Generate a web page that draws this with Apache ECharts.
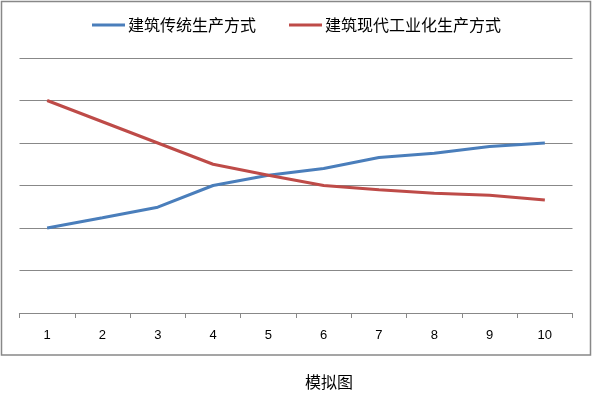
<!DOCTYPE html>
<html>
<head>
<meta charset="utf-8">
<script src="https://cdn.jsdelivr.net/npm/echarts@6/dist/echarts.min.js"></script>
<style>html,body{margin:0;padding:0;background:#fff;}#c{width:594px;height:395px;}</style>
</head>
<body>
<div id="c"></div>
<script>
var categories = ['1','2','3','4','5','6','7','8','9','10'];
var traditional = [2.0, 2.24, 2.49, 3.0, 3.24, 3.4, 3.66, 3.76, 3.92, 4.0];
var industrial = [5.0, 4.5, 4.0, 3.5, 3.24, 3.0, 2.9, 2.82, 2.77, 2.66];
var seriesNames = ['建筑传统生产方式', '建筑现代工业化生产方式'];
var titleText = '模拟图';

var chart = echarts.init(document.getElementById('c'), null, {renderer: 'canvas'});
var font = '"Noto Sans CJK SC", "Microsoft YaHei", sans-serif';
chart.setOption({
  animation: false,
  backgroundColor: '#fff',
  textStyle: {fontFamily: font},
  graphic: [{
    type: 'rect', z: -1, silent: true,
    shape: {x: 1.5, y: 1.5, width: 589, height: 353.5},
    style: {fill: 'none', stroke: '#888', lineWidth: 1.5}
  }],
  title: {
    text: titleText, left: 305, top: 374, padding: 0,
    textStyle: {fontSize: 16, fontWeight: 'normal', color: '#000', fontFamily: font}
  },
  legend: {
    left: 92, top: 17, padding: 0,
    itemWidth: 33, itemHeight: 3, itemGap: 33,
    icon: 'rect',
    textStyle: {fontSize: 16, color: '#000', fontFamily: font, padding: [0, 0, 0, -2]},
    data: seriesNames
  },
  grid: {left: 19.5, right: 21.5, top: 58, bottom: 82, containLabel: false},
  xAxis: {
    type: 'category', data: categories, boundaryGap: true,
    axisLine: {lineStyle: {color: '#888', width: 1.2}},
    axisTick: {show: true, length: 5, alignWithLabel: false, lineStyle: {color: '#888'}},
    axisLabel: {fontSize: 13, color: '#000', margin: 16, fontFamily: 'Liberation Sans, Arial, sans-serif'},
    splitLine: {show: false}
  },
  yAxis: {
    type: 'value', min: 0, max: 6, interval: 1,
    axisLine: {show: false}, axisTick: {show: false}, axisLabel: {show: false},
    splitLine: {lineStyle: {color: '#888', width: 1.2}}
  },
  series: [
    {name: seriesNames[0], type: 'line', data: traditional, showSymbol: false, symbol: 'none',
     itemStyle: {color: '#4A7EBB'}, lineStyle: {color: '#4A7EBB', width: 3}},
    {name: seriesNames[1], type: 'line', data: industrial, showSymbol: false, symbol: 'none',
     itemStyle: {color: '#BE4B48'}, lineStyle: {color: '#BE4B48', width: 3}}
  ]
});
</script>
</body>
</html>
